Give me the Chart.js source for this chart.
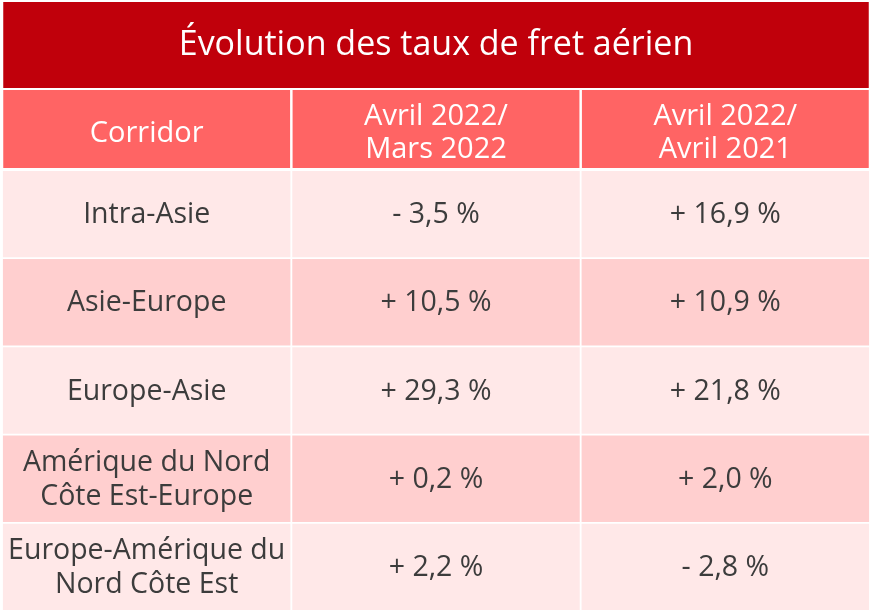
<!DOCTYPE html>
<html lang="fr">
<head>
<meta charset="utf-8">
<script src="https://cdn.jsdelivr.net/npm/chart.js@4.4.1/dist/chart.umd.min.js"></script>
<style>
  html, body { margin: 0; padding: 0; background: #fff; }
  #wrap { width: 874px; height: 612px; }
</style>
</head>
<body>
<div id="wrap"><canvas id="fret-table"></canvas></div>
<script>
const titre = "Évolution des taux de fret aérien";
const colonnes = ["Corridor", ["Avril 2022/", "Mars 2022"], ["Avril 2022/", "Avril 2021"]];
const corridors = [
  "Intra-Asie",
  "Asie-Europe",
  "Europe-Asie",
  ["Amérique du Nord", "Côte Est-Europe"],
  ["Europe-Amérique du", "Nord Côte Est"],
];
const avrilMars = [-3.5, 10.5, 29.3, 0.2, 2.2];
const avrilAvril = [16.9, 10.9, 21.8, 2.0, -2.8];

const rowColors = ["#ffe8e8", "#ffcfcf"];
const FONT = "'Open Sans', 'Noto Sans', sans-serif";

// "+ 10,5 %" style
const fmt = (v) => (v < 0 ? "- " : "+ ") + Math.abs(v).toFixed(1).replace(".", ",") + " %";

// backgrounds for the title and the header row
const fonds = {
  id: "fonds",
  beforeDraw(chart) {
    const { ctx, chartArea } = chart;
    const tb = chart.titleBlock;
    ctx.save();
    ctx.fillStyle = "#c0000b";
    ctx.fillRect(chartArea.left + 1.25, tb.top, chartArea.width - 2.5, tb.height - 2);

    const xs = chart.scales.x;
    const half = chartArea.width / colonnes.length / 2;
    ctx.fillStyle = "#ff6464";
    colonnes.forEach((c, j) => {
      const cx = xs.getPixelForValue(j);
      ctx.fillRect(cx - half + 1.25, xs.top, half * 2 - 2.5, xs.bottom - xs.top - 2);
    });
    ctx.restore();
  },
};

// cell texts, placed on each bar
const textes = {
  id: "textes",
  afterDatasetsDraw(chart) {
    const ctx = chart.ctx;
    const lh = 34;
    ctx.save();
    ctx.font = "28.5px " + FONT;
    ctx.fillStyle = "#3c3c3c";
    ctx.textAlign = "center";
    ctx.textBaseline = "middle";
    chart.data.datasets.forEach((ds, i) => {
      const cells = [corridors[i], fmt(avrilMars[i]), fmt(avrilAvril[i])];
      chart.getDatasetMeta(i).data.forEach((bar, j) => {
        const lines = [].concat(cells[j]);
        const cy = (bar.y + bar.base) / 2 + 1;
        lines.forEach((l, k) => {
          ctx.fillText(l, bar.x, cy + (k - (lines.length - 1) / 2) * lh);
        });
      });
    });
    ctx.restore();
  },
};

new Chart(document.getElementById("fret-table"), {
  type: "bar",
  data: {
    labels: colonnes,
    datasets: corridors.map((c, i) => ({
      label: [].concat(c).join(" "),
      data: colonnes.map(() => [i, i + 1]),
      backgroundColor: rowColors[i % 2],
      borderColor: "#ffffff",
      borderWidth: 1.25,
      borderSkipped: false,
      grouped: false,
      categoryPercentage: 1,
      barPercentage: 1,
    })),
  },
  options: {
    responsive: true,
    maintainAspectRatio: false,
    animation: false,
    events: [],
    layout: {
      padding: { top: 2, left: 2, right: 4, bottom: 1 },
    },
    plugins: {
      legend: false,
      tooltip: { enabled: false },
      title: {
        display: true,
        text: titre,
        color: "#ffffff",
        font: { family: FONT, size: 34, weight: "normal", lineHeight: 1.2 },
        padding: { top: 23, bottom: 24.2 },
      },
    },
    scales: {
      x: {
        type: "category",
        position: "top",
        grid: { display: false },
        border: { display: false },
        ticks: {
          color: "#ffffff",
          font: { family: FONT, size: 29, lineHeight: 33 / 29 },
          padding: 12,
          crossAlign: "center",
          maxRotation: 0,
          autoSkip: false,
        },
        afterFit: (s) => {
          s.height = 80;
        },
      },
      y: {
        type: "linear",
        display: false,
        min: 0,
        max: corridors.length,
        reverse: true,
      },
    },
  },
  plugins: [fonds, textes],
});
</script>
</body>
</html>
